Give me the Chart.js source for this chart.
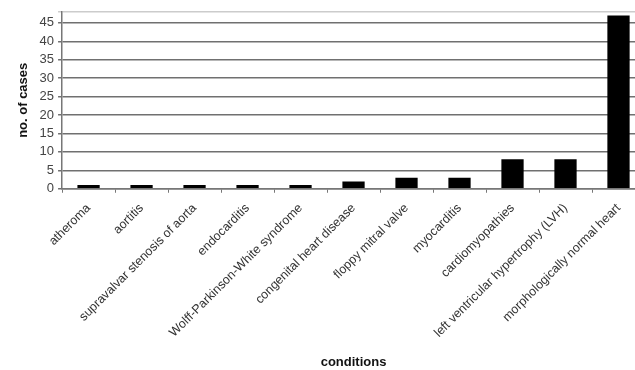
<!DOCTYPE html>
<html lang="en">
<head>
    <meta charset="UTF-8">
    <title>Conditions chart</title>
    <script src="https://cdn.jsdelivr.net/npm/chart.js@4.4.0/dist/chart.umd.min.js"></script>
    <style>
        body {
            margin: 0;
            background: #fff;
            overflow: hidden;
        }
        /* plot runs slightly past the right edge, as in the original */
        #wrap {
            width: 645px;
            height: 370px;
        }
    </style>
</head>
<body>
    <div id="wrap"><canvas id="casesChart"></canvas></div>

    <script>
        const conditions = [
            'atheroma',
            'aortitis',
            'supravalvar stenosis of aorta',
            'endocarditis',
            'Wolff-Parkinson-White syndrome',
            'congenital heart disease',
            'floppy mitral valve',
            'myocarditis',
            'cardiomyopathies',
            'left ventricular hypertrophy (LVH)',
            'morphologically normal heart'
        ];
        const cases = [1, 1, 1, 1, 1, 2, 3, 3, 8, 8, 47];
        const yTicks = [0, 5, 10, 15, 20, 25, 30, 35, 40, 45];
        const yMax = 48;

        const fontFamily = "'Liberation Sans', Arial, sans-serif";

        new Chart(document.getElementById('casesChart'), {
            type: 'bar',
            data: {
                labels: conditions,
                datasets: [{
                    label: 'no. of cases',
                    data: cases,
                    backgroundColor: '#000',
                    barPercentage: 0.42,
                    categoryPercentage: 1
                }]
            },
            options: {
                responsive: true,
                maintainAspectRatio: false,
                animation: false,
                layout: {
                    padding: { top: 4, left: 16, right: 0, bottom: 0 }
                },
                plugins: {
                    legend: { display: false },
                    tooltip: { enabled: false }
                },
                scales: {
                    x: {
                        offset: true,
                        grid: {
                            offset: true,
                            drawOnChartArea: false,
                            color: '#777',
                            tickLength: 4
                        },
                        border: { color: '#777', width: 1.5 },
                        ticks: {
                            autoSkip: false,
                            minRotation: 45,
                            maxRotation: 45,
                            color: '#333',
                            padding: 8,
                            font: { family: fontFamily, size: 12.5 }
                        },
                        title: {
                            display: true,
                            text: 'conditions',
                            color: '#111',
                            padding: { top: 6, bottom: 0 },
                            font: { family: fontFamily, size: 13, weight: 'bold' }
                        }
                    },
                    y: {
                        min: 0,
                        max: yMax,
                        afterBuildTicks: axis => {
                            // the 45 line plus the plot's top edge
                            axis.ticks = yTicks.concat([yMax]).map(v => ({ value: v }));
                        },
                        grid: {
                            color: ctx => ctx.tick && ctx.tick.value === yMax ? '#ccc' : '#707070',
                            lineWidth: 1.5,
                            tickLength: 4
                        },
                        border: { color: '#777', width: 1.5 },
                        ticks: {
                            autoSkip: false,
                            color: '#444',
                            padding: 4,
                            font: { family: fontFamily, size: 13 },
                            callback: v => (yTicks.includes(v) ? v : '')
                        },
                        title: {
                            display: true,
                            text: 'no. of cases',
                            color: '#111',
                            padding: { top: 0, bottom: 4 },
                            font: { family: fontFamily, size: 13, weight: 'bold' }
                        }
                    }
                }
            }
        });
    </script>
</body>
</html>
